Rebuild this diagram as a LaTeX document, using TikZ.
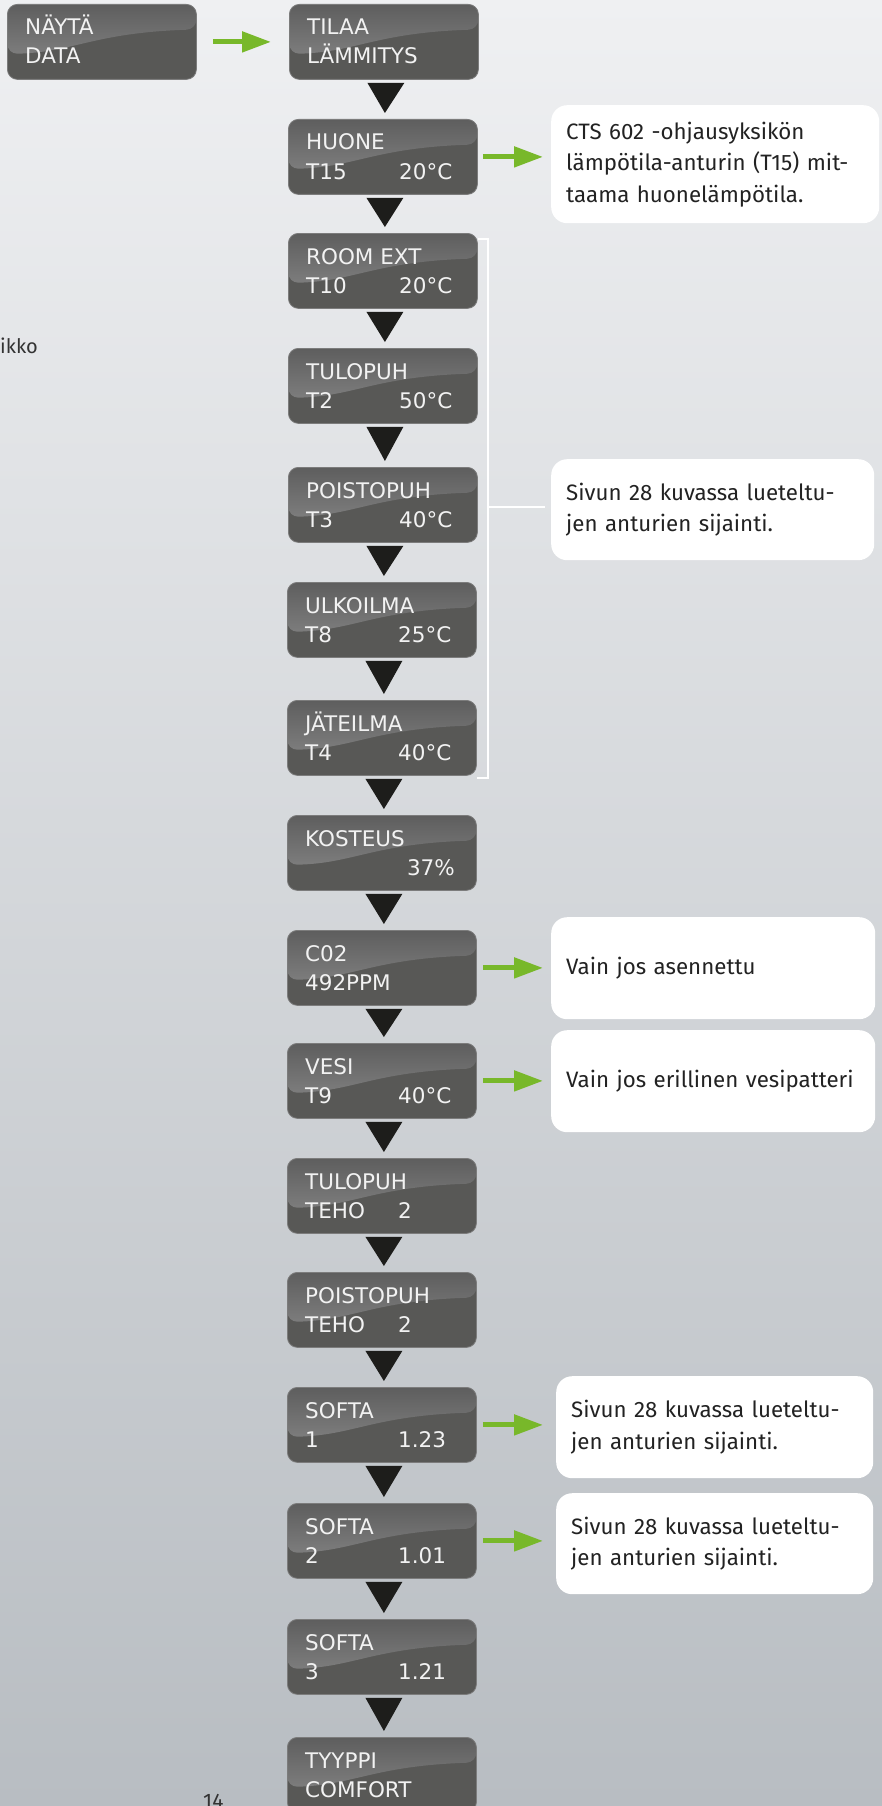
\documentclass[tikz,border=0pt]{standalone}
\usepackage{fontspec}
\setmainfont{Fira Sans}
\newfontfamily\boxfont{DejaVu Sans}
\usetikzlibrary{arrows.meta,calc}
\definecolor{bgtop}{HTML}{EFF0F2}
\definecolor{bgbot}{HTML}{B8BDC2}
\definecolor{boxlow}{HTML}{585856}
\definecolor{glosstop}{HTML}{5E5E5E}
\definecolor{glossbot}{HTML}{8C8C8C}
\definecolor{boxedge}{HTML}{7C7C7C}
\definecolor{boxtxt}{HTML}{F2F2F2}
\definecolor{trifill}{HTML}{1D1D1B}
\definecolor{arrgreen}{HTML}{78B82A}
\definecolor{calltxt}{HTML}{222222}
\definecolor{pagetxt}{HTML}{333333}
\tikzset{
  dbox/.style={rounded corners=10pt, minimum width=189pt, minimum height=75pt,
    inner sep=0pt, anchor=north west, fill=boxlow, draw=boxedge, line width=0.8pt,
    path picture={
      \shade[top color=glosstop,bottom color=glossbot]
        (path picture bounding box.north west)
        -- ([yshift=-49.5pt]path picture bounding box.north west)
        .. controls ([xshift=66pt,yshift=-48pt]path picture bounding box.north west)
           and ([xshift=85pt,yshift=-28.5pt]path picture bounding box.north west)
        .. ([yshift=-25pt]path picture bounding box.north east)
        -- (path picture bounding box.north east) -- cycle;
    }},
  btext/.style={inner sep=0pt, anchor=base west, text=boxtxt,
    font={\boxfont\fontsize{21.5pt}{25pt}\selectfont}},
  callout/.style={rounded corners=16pt, fill=white, anchor=north west,
    inner xsep=15pt, inner ysep=0pt, align=left, text=calltxt,
    font={\fontsize{22.3pt}{31.5pt}\selectfont}},
  tri/.style={fill=trifill},
  garrow/.style={draw=arrgreen, line width=5pt,
    -{Triangle[length=29pt,width=20pt]}},
  bracket/.style={draw=white, line width=2.5pt},
}
\newcommand\dispbox[6]{%
  \node[dbox] (#1) at (#2,#3) {};
  \node[btext] (#1a) at ([xshift=18pt,yshift=-31pt]#1.north west) {#4};
  \node[btext] (#1b) at ([xshift=18pt,yshift=-60pt]#1.north west) {#5};
  \node[btext] (#1c) at ([xshift=111pt,yshift=-60pt]#1.north west) {#6};
}
\newcommand\downtri[2]{%
  \fill[tri] ([xshift=-16.5pt,yshift=-3pt]#1.south) -- ([xshift=20.5pt,yshift=-3pt]#1.south)
    -- ([xshift=2pt,yshift=6pt]#2.north) -- cycle;
}
\begin{document}
\begin{tikzpicture}[x=1pt,y=-1pt]
\useasboundingbox (0,0) rectangle (882,1806);
\shade[top color=bgtop,bottom color=bgbot] (0,0) rectangle (882,1806);

% boxes
\dispbox{b1}{7}{4}{NÄYTÄ}{DATA}{}
\dispbox{b2}{289}{4}{TILAA}{LÄMMITYS}{}
\dispbox{b3}{288}{119}{HUONE}{T15}{20°C}
\dispbox{b4}{288}{233}{ROOM EXT}{T10}{20°C}
\dispbox{b5}{288}{348}{TULOPUH}{T2}{50°C}
\dispbox{b6}{288}{467}{POISTOPUH}{T3}{40°C}
\dispbox{b7}{287}{582}{ULKOILMA}{T8}{25°C}
\dispbox{b8}{287}{700}{JÄTEILMA}{T4}{40°C}
\node[dbox] (b9) at (287,815) {};
\node[btext] (b9a) at ([xshift=18pt,yshift=-31pt]b9.north west) {KOSTEUS};
\node[btext,anchor=base east] (b9c) at ([xshift=168pt,yshift=-60pt]b9.north west) {37\%};
\dispbox{b10}{287}{930}{C02}{492PPM}{}
\dispbox{b11}{287}{1043}{VESI}{T9}{40°C}
\dispbox{b12}{287}{1158}{TULOPUH}{TEHO}{2}
\dispbox{b13}{287}{1272}{POISTOPUH}{TEHO}{2}
\dispbox{b14}{287}{1387}{SOFTA}{1}{1.23}
\dispbox{b15}{287}{1503}{SOFTA}{2}{1.01}
\dispbox{b16}{287}{1619}{SOFTA}{3}{1.21}
\dispbox{b17}{287}{1737}{TYYPPI}{COMFORT}{}

% triangles
\downtri{b2}{b3}
\downtri{b3}{b4}
\downtri{b4}{b5}
\downtri{b5}{b6}
\downtri{b6}{b7}
\downtri{b7}{b8}
\downtri{b8}{b9}
\downtri{b9}{b10}
\downtri{b10}{b11}
\downtri{b11}{b12}
\downtri{b12}{b13}
\downtri{b13}{b14}
\downtri{b14}{b15}
\downtri{b15}{b16}
\downtri{b16}{b17}

% callouts
\node[callout, minimum width=328pt, minimum height=118pt, text width=298pt] (c1) at (551,105)
  {CTS 602 -ohjausyksikön\\lämpötila-anturin (T15) mit-\\taama huonelämpötila.};
\node[callout, minimum width=323pt, minimum height=101pt, text width=293pt] (c2) at (551,459)
  {Sivun 28 kuvassa lueteltu-\\jen anturien sijainti.};
\node[callout, minimum width=324pt, minimum height=102pt, text width=294pt] (c3) at (551,917)
  {Vain jos asennettu};
\node[callout, minimum width=324pt, minimum height=102pt, text width=294pt] (c4) at (551,1030)
  {Vain jos erillinen vesipatteri};
\node[callout, minimum width=317pt, minimum height=102pt, text width=287pt] (c5) at (556,1376)
  {Sivun 28 kuvassa lueteltu-\\jen anturien sijainti.};
\node[callout, minimum width=317pt, minimum height=101pt, text width=287pt] (c6) at (556,1493)
  {Sivun 28 kuvassa lueteltu-\\jen anturien sijainti.};

% green arrows
\draw[garrow, shorten <=16pt, shorten >=18pt] (b1.east) -- (b2.west);
\draw[garrow, shorten <=5pt, shorten >=8pt] (b3.east) -- (b3.east -| c1.west);
\draw[garrow, shorten <=6pt, shorten >=8pt] (b10.east) -- (b10.east -| c3.west);
\draw[garrow, shorten <=6pt, shorten >=8pt] (b11.east) -- (b11.east -| c4.west);
\draw[garrow, shorten <=6pt, shorten >=13pt] (b14.east) -- (b14.east -| c5.west);
\draw[garrow, shorten <=6pt, shorten >=13pt] (b15.east) -- (b15.east -| c6.west);

% bracket
\coordinate (brk) at (488,507);
\draw[bracket] ([yshift=-6pt]b4.north east) -| ($(b8.south east)+(11,2)$) -- ([yshift=-2pt]b8.south east);
\draw[bracket] (brk) -- ([xshift=-6pt]c2.west |- brk);

% page texts
\node[inner sep=0pt, anchor=base west, text=pagetxt, font={\fontsize{20pt}{24pt}\selectfont}] (cut) at (0,353) {ikko};
\node[inner sep=0pt, anchor=base west, text=pagetxt, font={\fontsize{21pt}{24pt}\selectfont}] (pg) at (203,1808) {14};
\end{tikzpicture}
\end{document}
